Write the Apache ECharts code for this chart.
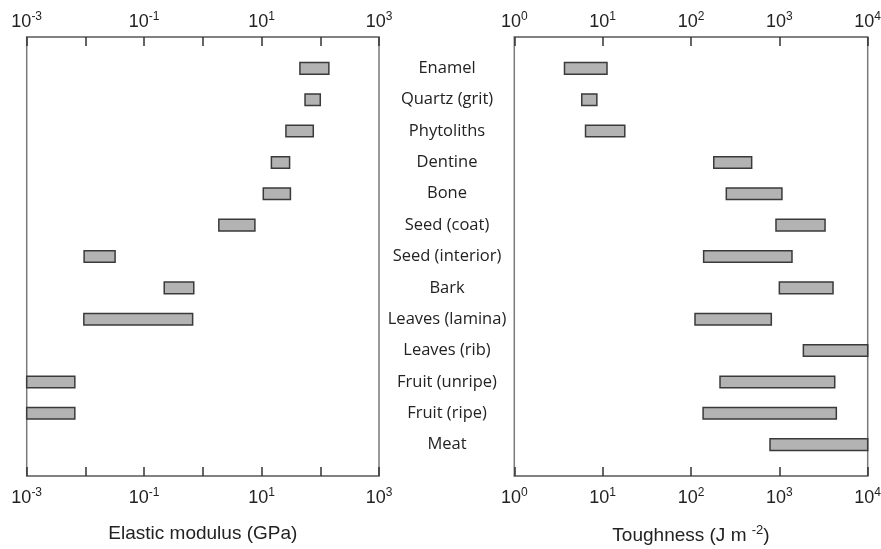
<!DOCTYPE html>
<html>
<head>
<meta charset="utf-8">
<script src="https://cdn.jsdelivr.net/npm/echarts@6/dist/echarts.min.js"></script>
<style>html,body{margin:0;padding:0;background:#fff}#c{width:881px;height:549px}</style>
</head>
<body>
<div id="c"></div>
<script>
const categories = ['Enamel','Quartz (grit)','Phytoliths','Dentine','Bone','Seed (coat)','Seed (interior)','Bark','Leaves (lamina)','Leaves (rib)','Fruit (unripe)','Fruit (ripe)','Meat'];
const modulusLow  = [45, 55, 26, 14.7, 10.7, 1.87, 0.0095, 0.22, 0.0094, null, 0.001, 0.001, null];
const modulusHigh = [140, 100, 76, 30, 31, 7.7, 0.032, 0.70, 0.67, null, 0.0066, 0.0066, null];
const toughLow  = [3.7, 5.8, 6.4, 181, 251, 916, 139, 1000, 111, 1870, 213, 137, 784];
const toughHigh = [11.2, 8.6, 17.8, 486, 1070, 3290, 1390, 4050, 811, 10000, 4235, 4415, 10000];
const modulusLabelExps = [-3, -1, 1, 3];
const toughLabelExps = [0, 1, 2, 3, 4];

const LINE = '#7a7a7a', TICK = '#333', TXT = '#222';
const numFont = 'Liberation Sans';
const catFont = 'Open Sans';

function labelFmt(exps) {
  return function (v) {
    const e = Math.round(Math.log10(v));
    return exps.indexOf(e) >= 0 ? '{b|10}{s|' + e + '}' : '';
  };
}
const richNum = {
  b: { fontSize: 18, fontFamily: numFont, color: TXT, lineHeight: 22 },
  s: { fontSize: 12, fontFamily: numFont, color: TXT, verticalAlign: 'top', lineHeight: 14 }
};
function logAxis(grid, pos, min, max, split, exps, name) {
  const ax = {
    gridIndex: grid, type: 'log', logBase: 10, min: min, max: max, splitNumber: split,
    position: pos,
    axisLine: { show: true, lineStyle: { color: LINE, width: 1.5 } },
    axisTick: { show: true, inside: true, length: 9, lineStyle: { color: TICK, width: 1.5 } },
    minorTick: { show: false }, splitLine: { show: false },
    axisLabel: { formatter: labelFmt(exps), rich: richNum, margin: pos === 'top' ? 4 : 11,
      showMinLabel: true, showMaxLabel: true, hideOverlap: false }
  };
  if (name) {
    ax.name = name; ax.nameLocation = 'middle'; ax.nameGap = 48;
    ax.nameTextStyle = { fontSize: 19, fontFamily: numFont, color: TXT,
      rich: { n: { fontSize: 19, fontFamily: numFont, color: TXT, lineHeight: 24 },
              s: { fontSize: 13, fontFamily: numFont, color: TXT, verticalAlign: 'top', lineHeight: 14 } } };
  }
  return ax;
}
const yCats = [''].concat(categories, ['']);
function catAxis(grid, showLabels) {
  return {
    gridIndex: grid, type: 'category', data: yCats, inverse: true, boundaryGap: false,
    position: 'right',
    axisLine: { show: false }, axisTick: { show: false }, splitLine: { show: false },
    axisLabel: { show: showLabels, interval: 0, align: 'center', margin: 68,
      fontSize: 16.5, fontFamily: catFont, color: TXT }
  };
}
function buildData(lo, hi) {
  const out = [];
  categories.forEach(function (c, i) {
    if (lo[i] != null && hi[i] != null) out.push([lo[i], hi[i], i + 1]);
  });
  return out;
}
function renderBar(params, api) {
  const lo = api.value(0), hi = api.value(1), idx = api.value(2);
  const p0 = api.coord([lo, idx]);
  const p1 = api.coord([hi, idx]);
  const pn = api.coord([lo, idx + 1]);
  const h = Math.abs(pn[1] - p0[1]) * 0.37;
  return {
    type: 'rect',
    shape: { x: p0[0], y: p0[1] - h / 2, width: p1[0] - p0[0], height: h },
    style: { fill: '#b3b3b3', stroke: '#3a3a3a', lineWidth: 1.5 }
  };
}

const chart = echarts.init(document.getElementById('c'), null, { renderer: 'canvas' });
chart.setOption({
  animation: false,
  backgroundColor: '#fff',
  grid: [
    { left: 26.7, top: 37, width: 352.3, height: 439, show: true, borderColor: LINE, borderWidth: 1.5, containLabel: false, outerBoundsMode: 'none' },
    { left: 514.3, top: 37, width: 353.4, height: 439, show: true, borderColor: LINE, borderWidth: 1.5, containLabel: false, outerBoundsMode: 'none' }
  ],
  xAxis: [
    logAxis(0, 'top', 0.001, 1000, 6, modulusLabelExps),
    logAxis(0, 'bottom', 0.001, 1000, 6, modulusLabelExps, 'Elastic modulus (GPa)'),
    logAxis(1, 'top', 1, 10000, 4, toughLabelExps),
    logAxis(1, 'bottom', 1, 10000, 4, toughLabelExps, '{n|Toughness (J m }{s|-2}{n|)}')
  ],
  yAxis: [catAxis(0, true), catAxis(1, false)],
  series: [
    { type: 'custom', xAxisIndex: 1, yAxisIndex: 0, renderItem: renderBar,
      encode: { x: [0, 1], y: 2 }, data: buildData(modulusLow, modulusHigh) },
    { type: 'custom', xAxisIndex: 3, yAxisIndex: 1, renderItem: renderBar,
      encode: { x: [0, 1], y: 2 }, data: buildData(toughLow, toughHigh) }
  ]
});
</script>
</body>
</html>
